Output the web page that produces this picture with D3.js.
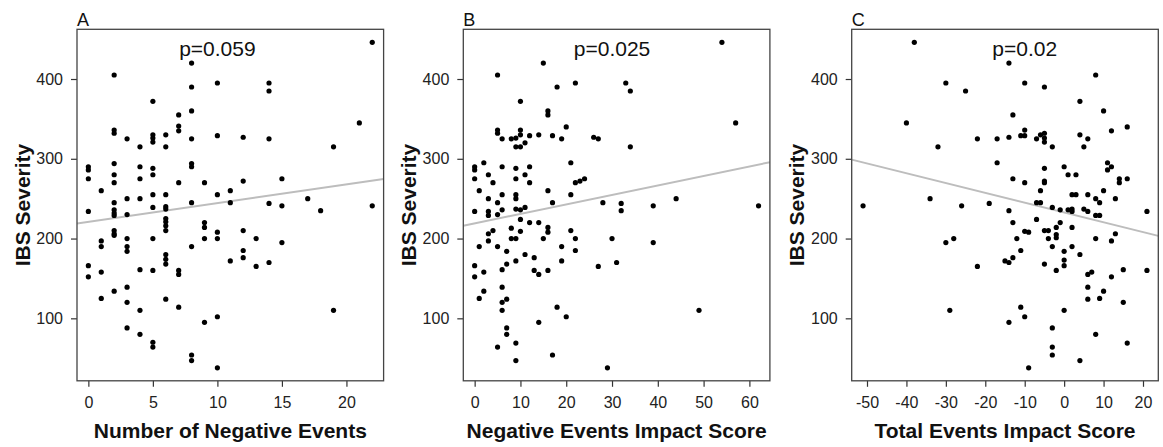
<!DOCTYPE html>
<html>
<head>
<meta charset="utf-8">
<script src="https://cdn.jsdelivr.net/npm/d3@7/dist/d3.min.js"></script>
<style>
  html, body { margin: 0; padding: 0; background: #fff; }
  svg { display: block; font-family: "Liberation Sans", Arial, Helvetica, sans-serif; }
</style>
</head>
<body>
<svg id="chart" width="1163" height="447"></svg>
<script>
// Panel A: number of negative life events vs IBS severity
const negCountX = [
  0,0,0,0,0,0,
  1,1,1,1,1,
  2,2,2,2,2,2,2,2,2,2,2,2,2,2,
  3,3,3,3,3,3,3,3,3,
  4,4,4,4,4,4,4,
  5,5,5,5,5,5,5,5,5,5,5,5,
  6,6,6,6,6,6,6,6,6,6,6,6,6,
  7,7,7,7,7,7,7,
  8,8,8,8,8,8,8,8,8,8,
  9,9,9,9,9,
  10,10,10,10,10,10,10,
  11,11,11,
  12,12,12,12,12,
  13,13,
  14,14,14,14,14,
  15,15,15,
  17, 18, 19,19, 21, 22,22
];
const negCountY = [
  290,286,275,234,166,152,
  260,197,190,158,125,
  405,336,332,294,280,270,245,236,232,229,210,206,204,134,
  325,250,230,200,190,184,139,120,88,
  315,290,275,250,161,110,80,
  372,330,326,321,288,280,255,239,200,160,70,64,
  330,315,255,240,237,225,221,216,210,180,174,168,124,
  355,341,335,270,160,155,114,
  420,390,360,325,294,290,245,190,54,47,
  270,220,214,200,95,
  395,329,255,208,200,102,38,
  260,245,172,
  327,272,210,185,176,
  200,165,
  395,385,325,244,170,
  275,241,195,
  250, 235, 315,110, 345, 446,241
];

// Panel B: negative events impact score vs IBS severity
const negImpactX = [
  54,15,5,22,33,18,34,10,16,16,57,20,5,5,10,10,6,8,9,12,14,17,19,26,27,
  9,10,11,34,0,0,2,6,9,12,21,0,3,4,9,11,12,22,23,24,1,6,9,9,16,21,3,5,17,
  28,32,32,39,44,62,0,3,3,6,5,9,10,11,10,14,12,16,16,8,4,3,3,10,8,9,15,21,
  22,30,39,1,5,7,19,22,11,13,9,7,19,31,27,0,0,6,2,13,14,16,2,6,1,7,6,6,18,
  20,14,49,7,7,9,5,17,9,29
];
const negImpactY = [
  446,420,405,395,395,390,385,372,360,355,345,340,336,332,336,330,325,325,326,329,330,329,325,327,325,
  315,315,320,315,290,286,295,290,288,290,295,275,280,270,275,280,270,270,272,275,260,255,255,250,260,255,250,245,245,
  245,244,235,241,250,241,234,234,229,236,230,237,236,239,224,220,220,214,208,213,210,206,197,209,200,200,200,210,
  200,200,195,190,190,184,190,185,180,176,172,168,172,170,165,166,152,161,158,160,155,160,134,139,125,124,120,110,114,
  102,95,110,88,80,69,64,54,47,38
];

// Panel C: total events impact score vs IBS severity
const totImpactX = [
  -38,-14,8,-30,-10,-5,-25,4,10,-13,-40,16,12,-10,-10,-11,-6,-5,-5,-5,-14,-17,-22,-7,4,6,
  -32,-3,5,-17,0,11,12,11,-5,-13,1,3,-10,-5,-5,14,14,16,-6,10,2,3,6,-34,8,13,-7,-6,9,
  -19,-51,-26,-14,-3,-1,1,2,2,5,6,8,9,21,-7,-13,-1,-2,2,-10,-9,-5,-4,-2,-2,-12,-4,8,12,13,
  -30,-28,-11,-3,2,0,4,-13,-15,-14,-5,0,0,-22,-2,6,7,15,21,12,6,10,6,9,15,-11,-29,0,
  -10,-14,-3,8,16,-3,-3,4,-9
];
const totImpactY = [
  446,420,405,395,395,390,385,372,360,355,345,340,335,336,329,329,330,332,326,321,327,325,325,325,330,325,
  315,315,315,295,290,295,290,286,288,275,280,280,270,272,270,275,270,275,260,260,255,255,255,250,250,250,245,245,245,
  244,241,241,235,239,236,236,237,234,237,234,229,229,234,224,220,220,214,214,209,208,210,210,205,201,200,200,200,197,206,
  195,200,185,190,190,184,180,176,172,170,168,173,166,165,160,155,158,161,160,152,139,134,124,125,120,114,110,110,
  102,95,88,80,69,64,54,47,38
];

// Tick values and labels
const xTicksA = [0, 5, 10, 15, 20];
const xTicksB = [0, 10, 20, 30, 40, 50, 60];
const xTicksC = [-50, -40, -30, -20, -10, 0, 10, 20];
const yTicks = [100, 200, 300, 400];

// Fitted regression lines: [intercept, slope]
const fitA = [221, 2.34];
const fitB = [219, 1.19];
const fitC = [232.7, -1.23];

// p-value annotations, placed at data coordinates
const pLabels = ["p=0.059", "p=0.025", "p=0.02"];
const pLabelX = [10, 30, -10];
const pLabelY = 440;

const panelLetters = ["A", "B", "C"];
const xTitles = ["Number of Negative Events", "Negative Events Impact Score", "Total Events Impact Score"];
const yTitle = "IBS Severity";

const panels = [
  { xs: negCountX,  ys: negCountY,  ticks: xTicksA, fit: fitA },
  { xs: negImpactX, ys: negImpactY, ticks: xTicksB, fit: fitB },
  { xs: totImpactX, ys: totImpactY, ticks: xTicksC, fit: fitC }
];

// Layout
const boxLeft = [77, 463.3, 851.7];
const boxW = 306.6;
const boxTop = 29.3;
const boxBottom = 380.8;

const svg = d3.select("#chart");

// Extend a data range by 4% on each side
function padded(vals) {
  const [lo, hi] = d3.extent(vals);
  const pad = (hi - lo) * 0.04;
  return [lo - pad, hi + pad];
}

// plain hyphen-minus for negative tick labels
const plainFormat = d => String(d);

const yAll = d3.merge(panels.map(p => p.ys));
const yDomain = padded(yAll);

panels.forEach((p, i) => {
  const x0 = boxLeft[i];
  const x = d3.scaleLinear().domain(padded(p.xs)).range([x0, x0 + boxW]);
  const y = d3.scaleLinear().domain(yDomain).range([boxBottom, boxTop]);

  const g = svg.append("g");

  // clip for regression line
  const clipId = "clip" + i;
  g.append("clipPath").attr("id", clipId)
    .append("rect")
    .attr("x", x0).attr("y", boxTop)
    .attr("width", boxW).attr("height", boxBottom - boxTop);

  // x axis
  const xAxis = g.append("g")
    .attr("transform", `translate(0,${boxBottom})`)
    .call(d3.axisBottom(x).tickValues(p.ticks).tickFormat(plainFormat)
      .tickSize(6).tickSizeOuter(0).tickPadding(10));
  xAxis.select(".domain").remove();
  xAxis.selectAll(".tick line").attr("stroke", "#333").attr("stroke-width", 1.2);
  xAxis.selectAll(".tick text")
    .attr("font-size", 16).attr("fill", "#222")
    .attr("font-family", "Liberation Sans, Arial, sans-serif");

  // y axis
  const yAxis = g.append("g")
    .attr("transform", `translate(${x0},0)`)
    .call(d3.axisLeft(y).tickValues(yTicks).tickFormat(plainFormat)
      .tickSize(6).tickSizeOuter(0).tickPadding(8));
  yAxis.select(".domain").remove();
  yAxis.selectAll(".tick line").attr("stroke", "#333").attr("stroke-width", 1.2);
  yAxis.selectAll(".tick text")
    .attr("font-size", 16).attr("fill", "#222")
    .attr("font-family", "Liberation Sans, Arial, sans-serif");

  // regression line
  const [xa, xb] = x.domain();
  const [b0, b1] = p.fit;
  g.append("line")
    .attr("clip-path", `url(#${clipId})`)
    .attr("x1", x(xa)).attr("y1", y(b0 + b1 * xa))
    .attr("x2", x(xb)).attr("y2", y(b0 + b1 * xb))
    .attr("stroke", "#bdbdbd").attr("stroke-width", 2);

  // points
  g.append("g").selectAll("circle")
    .data(p.xs.map((v, k) => [v, p.ys[k]]))
    .join("circle")
    .attr("cx", d => x(d[0]))
    .attr("cy", d => y(d[1]))
    .attr("r", 2.6)
    .attr("fill", "#000");

  // frame
  g.append("rect")
    .attr("x", x0).attr("y", boxTop)
    .attr("width", boxW).attr("height", boxBottom - boxTop)
    .attr("fill", "none").attr("stroke", "#444").attr("stroke-width", 1.3);

  // p-value
  g.append("text")
    .attr("x", x(pLabelX[i])).attr("y", y(pLabelY))
    .attr("dy", "0.42em")
    .attr("text-anchor", "middle")
    .attr("font-size", 21).attr("fill", "#111")
    .text(pLabels[i]);

  // panel letter
  g.append("text")
    .attr("x", x0).attr("y", 26)
    .attr("font-size", 18).attr("fill", "#111")
    .text(panelLetters[i]);

  // x title
  g.append("text")
    .attr("x", x0 + boxW / 2).attr("y", 438)
    .attr("text-anchor", "middle")
    .attr("font-size", 21).attr("font-weight", "bold").attr("fill", "#111")
    .text(xTitles[i]);

  // y title
  g.append("text")
    .attr("transform", `translate(${x0 - 55},${(boxTop + boxBottom) / 2}) rotate(-90)`)
    .attr("dy", "0.36em")
    .attr("text-anchor", "middle")
    .attr("font-size", 21).attr("font-weight", "bold").attr("fill", "#111")
    .text(yTitle);
});
</script>
</body>
</html>
